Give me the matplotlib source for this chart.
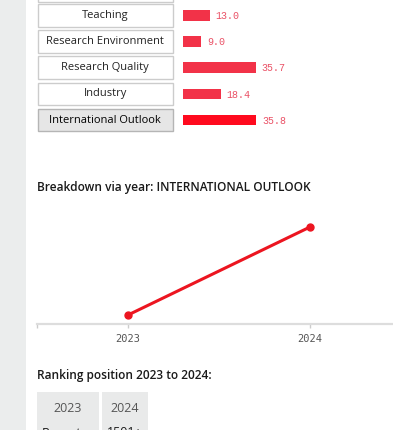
import matplotlib.pyplot as plt
from matplotlib.patches import Rectangle
import matplotlib.transforms as mtransforms

W, H = 393, 430

# data
categories = ["Teaching", "Research Environment", "Research Quality", "Industry", "International Outlook"]
scores = [13.0, 9.0, 35.7, 18.4, 35.8]
selected = "International Outlook"

years = [2023, 2024]
outlook_by_year = [15.0, 35.8]

rank_years = ["2023", "2024"]
rank_values = ["Reporter", "1501+"]

title_font = "Open Sans"
dark = "#1a1a1a"


def fig_rect(x0, y0, x1, y1):
	# pixel box (top-left origin) -> figure fraction
	return [x0 / W, 1 - y1 / H, (x1 - x0) / W, (y1 - y0) / H]


fig = plt.figure(figsize=(W / 100, H / 100), dpi=100)
fig.patch.set_facecolor("white")

#Background layer in pixel coords
bg = fig.add_axes([0, 0, 1, 1])
bg.set_xlim(0, W)
bg.set_ylim(H, 0)
bg.axis("off")
bg.add_patch(Rectangle((0, 0), 26, H, color="#ebeded", lw=0))
bg.add_patch(Rectangle((37.5, -20), 135, 21.5, fc="white", ec="#cccccc", lw=1))

#Score bars with category buttons
row0, row_step = 15.3, 26.2
bax = fig.add_axes(fig_rect(37, row0 - row_step / 2, W, row0 + row_step * (len(categories) - 0.5)))
px_per_unit = 2.05
bax.set_xlim(-(183 - 37) / px_per_unit, (W - 183) / px_per_unit)
bax.set_ylim(len(categories) - 0.5, -0.5)
bax.axis("off")
bax.patch.set_alpha(0)

ypos = list(range(len(categories)))
colors = ["#ff0a1e" if c == selected else "#f23248" for c in categories]
bax.barh(ypos, scores, height=0.4, color=colors, lw=0)

blend = mtransforms.blended_transform_factory(bax.transAxes, bax.transData)
box_w = (172.5 - 37.5) / (W - 37)
for i, (cat, val) in enumerate(zip(categories, scores)):
	is_sel = cat == selected
	bax.add_patch(Rectangle((0.002, i - 0.43), box_w, 0.86, transform=blend,
		fc="#e6e6e6" if is_sel else "white", ec="#b5b5b5" if is_sel else "#cccccc", lw=1))
	bax.text(0.002 + box_w / 2, i, cat, transform=blend, ha="center", va="center",
		fontsize=8, family=title_font, color="#000000" if is_sel else "#222222")
	bax.annotate(format(val, ".1f"), (val, i), xytext=(4, -0.5), textcoords="offset points",
		ha="left", va="center", fontsize=7.2, family="Liberation Mono", color="#ea5065")

#Breakdown line chart
fig.text(37 / W, 1 - 187 / H, "Breakdown via year: INTERNATIONAL OUTLOOK", ha="left", va="center",
	fontsize=8.6, family=title_font, fontweight="semibold", color=dark)

lax = fig.add_axes(fig_rect(37, 200, W, 324))
lax.patch.set_alpha(0)
lax.set_xlim(years[0] - 0.5, years[1] + 83 / 182)
ppu = (315 - 227) / (outlook_by_year[1] - outlook_by_year[0])
lax.set_ylim(outlook_by_year[0] - 9 / ppu, outlook_by_year[1] + 27 / ppu)
lax.plot(years, outlook_by_year, color="#ec1520", lw=2.2, marker="o", markersize=5, clip_on=False, zorder=3)
for s in ["top", "right", "left"]:
	lax.spines[s].set_visible(False)
lax.spines["bottom"].set_color("#dddddd")
lax.spines["bottom"].set_linewidth(1.6)
lax.set_yticks([])
lax.set_xticks(years)
lax.set_xticks([years[0] - 0.5], minor=True)
lax.set_xticklabels([str(y) for y in years], family="DejaVu Sans Mono", fontsize=7.5, color="#555555")
lax.tick_params(axis="x", which="both", length=3, width=1, color="#cccccc", pad=4)

#Ranking position boxes
fig.text(37 / W, 1 - 376 / H, "Ranking position 2023 to 2024:", ha="left", va="center",
	fontsize=8.6, family=title_font, fontweight="semibold", color=dark)
box_x = [(37, 99), (102, 148)]
for (x0, x1), yr, rv in zip(box_x, rank_years, rank_values):
	bg.add_patch(Rectangle((x0, 392), x1 - x0, 60, color="#e9eaea", lw=0))
	bg.text((x0 + x1) / 2, 408, yr, ha="center", va="center", fontsize=9, family=title_font, color="#555555")
	bg.text((x0 + x1) / 2, 433, rv, ha="center", va="center", fontsize=9, family=title_font, color=dark, clip_on=True)

fig.savefig("out.png", dpi=100)
